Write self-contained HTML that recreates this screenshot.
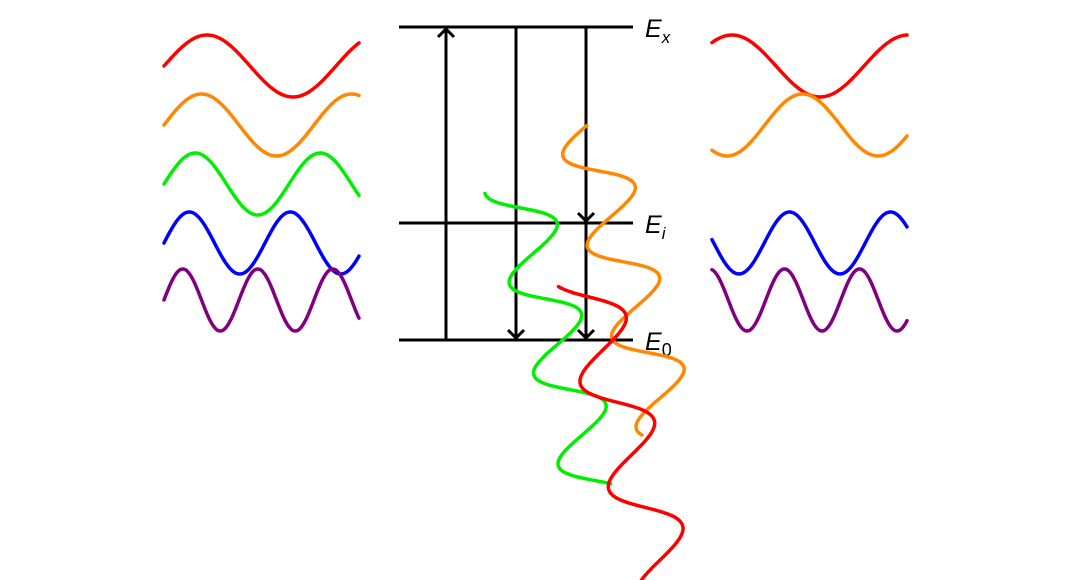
<!DOCTYPE html>
<html><head><meta charset="utf-8"><style>
html,body{margin:0;padding:0;background:#fff;}
svg{display:block;}
text{font-family:"Liberation Sans","DejaVu Sans",sans-serif;font-style:italic;fill:#000;}
</style></head><body>
<svg id="s" width="1068" height="580" viewBox="0 0 1068 580" xmlns="http://www.w3.org/2000/svg">
<g stroke="#000" stroke-width="3" fill="none" stroke-linecap="butt">
<line x1="399" y1="27" x2="633" y2="27"/>
<line x1="399" y1="223" x2="633" y2="223"/>
<line x1="399" y1="340" x2="633" y2="340"/>
<line x1="446" y1="340" x2="446" y2="28"/>
<polyline points="438,37 446,29 454,37"/>
<line x1="516" y1="27" x2="516" y2="338"/>
<polyline points="508,330 516,338 524,330"/>
<line x1="586" y1="27" x2="586" y2="221"/>
<polyline points="578,213 586,221 594,213"/>
<line x1="586" y1="223" x2="586" y2="338"/>
<polyline points="578,330 586,338 594,330"/>
</g>
<text x="645" y="37" font-size="25">E<tspan font-size="17" dy="6">x</tspan></text>
<text x="645" y="233" font-size="25">E<tspan font-size="17" dy="6">i</tspan></text>
<text x="645" y="350" font-size="25">E<tspan font-size="18" dy="6" font-style="normal">0</tspan></text>
<g id="w" fill="none" stroke-width="3.5" stroke-linecap="round"></g>
</svg>
<script>
var g=document.getElementById('w');
function add(d,c){var p=document.createElementNS('http://www.w3.org/2000/svg','path');p.setAttribute('d',d);p.setAttribute('stroke',c);g.appendChild(p);}
function sine(x0,x1,f,c){var d='';for(var x=x0;x<=x1+0.01;x+=1){d+=(d?'L':'M')+x.toFixed(1)+','+f(x).toFixed(1);}add(d,c);}
var A=31,P=Math.PI*2;
sine(164,359,function(x){return 66-A*Math.sin(P*(x-164)/172)},'#ff0000');
sine(164,359,function(x){return 125-A*Math.sin(P*(x-164)/150)},'#ff8800');
sine(164,359,function(x){return 184-A*Math.sin(P*(x-164)/125)},'#00ee00');
sine(164,359,function(x){return 243-A*Math.sin(P*(x-164)/101)},'#0000ff');
sine(164,359,function(x){return 300-A*Math.sin(P*(x-164)/75)},'#800080');
sine(712,907,function(x){return 66-A*Math.cos(P*(x-732)/176)},'#ff0000');
sine(712,907,function(x){return 125+A*Math.cos(P*(x-727)/151)},'#ff8800');
sine(712,907,function(x){return 243+A*Math.cos(P*(x-739)/101)},'#0000ff');
sine(712,907,function(x){return 300+A*Math.cos(P*(x-747)/75)},'#800080');
function tilt(ox,oy,lam,s0,s1,c){var dx=0.26,dy=0.966,nx=0.966,ny=-0.26,d='';
for(var s=s0;s<=s1;s+=1){var a=A*Math.sin(P*s/lam);var x=ox+s*dx+a*nx,y=oy+s*dy+a*ny;d+=(d?'L':'M')+x.toFixed(1)+','+y.toFixed(1);}add(d,c);}
tilt(521,208,94,-23.5,290,'#00ee00');
tilt(599,171,94,-47,266,'#ff8800');
tilt(589,297,109,-18,300,'#ff0000');
</script>
</body></html>
